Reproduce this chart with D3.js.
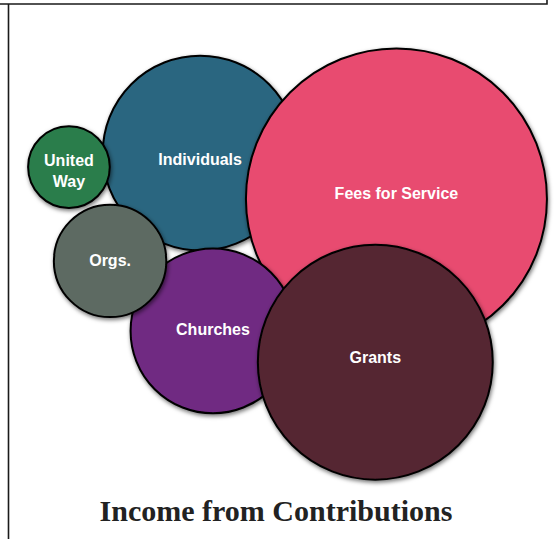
<!DOCTYPE html>
<html>
<head>
<meta charset="utf-8">
<script src="https://cdn.jsdelivr.net/npm/d3@7/dist/d3.min.js"></script>
<style>
  html, body { margin: 0; padding: 0; background: #fff; }
  svg { display: block; }
</style>
</head>
<body>
<script>
// Income sources and their share of contributions (%)
const categories = ["Individuals", "Fees for Service", "Churches", "Grants", "Orgs.", "United Way"];
const shares     = [16.5, 39.4, 11.8, 24.0, 5.5, 2.9];
const fills      = ["#2b6680", "#e84c6f", "#702a82", "#552532", "#5d6a62", "#2b7d4b"];
// Label lines (United Way wraps onto two lines)
const labelLines = [["Individuals"], ["Fees for Service"], ["Churches"], ["Grants"], ["Orgs."], ["United", "Way"]];
// Bubble arrangement in relative units (0..1 across the chart frame)
const layoutX = [0.360, 0.713, 0.383, 0.675, 0.198, 0.124];
const layoutY = [0.284, 0.369, 0.614, 0.672, 0.484, 0.310];
// Vertical nudge of each label from its bubble centre (relative units)
const labelNudge = [0.011, -0.011, -0.004, -0.010, -0.002, 0.007];

const W = 556, H = 539;
const svg = d3.select("body").append("svg").attr("width", W).attr("height", H);

const defs = svg.append("defs");
const f = defs.append("filter").attr("id", "shadow")
  .attr("x", "-20%").attr("y", "-20%").attr("width", "140%").attr("height", "140%");
f.append("feDropShadow").attr("dx", 1).attr("dy", 2).attr("stdDeviation", 2.2)
  .attr("flood-color", "#000").attr("flood-opacity", 0.55);

// Page frame lines
const frame = svg.append("g").attr("stroke", "#1a1a1a").attr("stroke-width", 1.6).attr("fill", "none");
frame.append("path").attr("d", "M0,4 H547 V0");
frame.append("path").attr("d", "M8.5,4 V539");

const x = d3.scaleLinear().domain([0, 1]).range([0, W]);
const y = d3.scaleLinear().domain([0, 1]).range([0, H]);
const r = d3.scaleSqrt().domain([0, d3.max(shares)]).range([0, 150.5]);

const data = categories.map((c, i) => ({
  name: c, value: shares[i], fill: fills[i], lines: labelLines[i],
  cx: x(layoutX[i]), cy: y(layoutY[i]), ly: y(layoutY[i] + labelNudge[i])
}));

const g = svg.append("g").selectAll("g").data(data).join("g");

g.append("circle")
  .attr("cx", d => d.cx).attr("cy", d => d.cy).attr("r", d => r(d.value))
  .attr("fill", d => d.fill)
  .attr("stroke", "#000").attr("stroke-width", 2)
  .attr("filter", "url(#shadow)");

g.append("text")
  .attr("text-anchor", "middle")
  .attr("fill", "#fff")
  .attr("font-family", "'Liberation Sans', Arial, sans-serif")
  .attr("font-weight", "bold")
  .attr("font-size", 16)
  .each(function(d) {
    const n = d.lines.length;
    const lh = 21;
    d3.select(this).selectAll("tspan").data(d.lines).join("tspan")
      .attr("x", d.cx)
      .attr("y", (t, j) => d.ly + 6 + (j - (n - 1) / 2) * lh)
      .text(t => t);
  });

svg.append("text")
  .attr("x", 276).attr("y", 521)
  .attr("text-anchor", "middle")
  .attr("font-family", "'Liberation Serif', 'Times New Roman', serif")
  .attr("font-weight", "bold")
  .attr("font-size", 30)
  .attr("fill", "#222")
  .text("Income from Contributions");
</script>
</body>
</html>
